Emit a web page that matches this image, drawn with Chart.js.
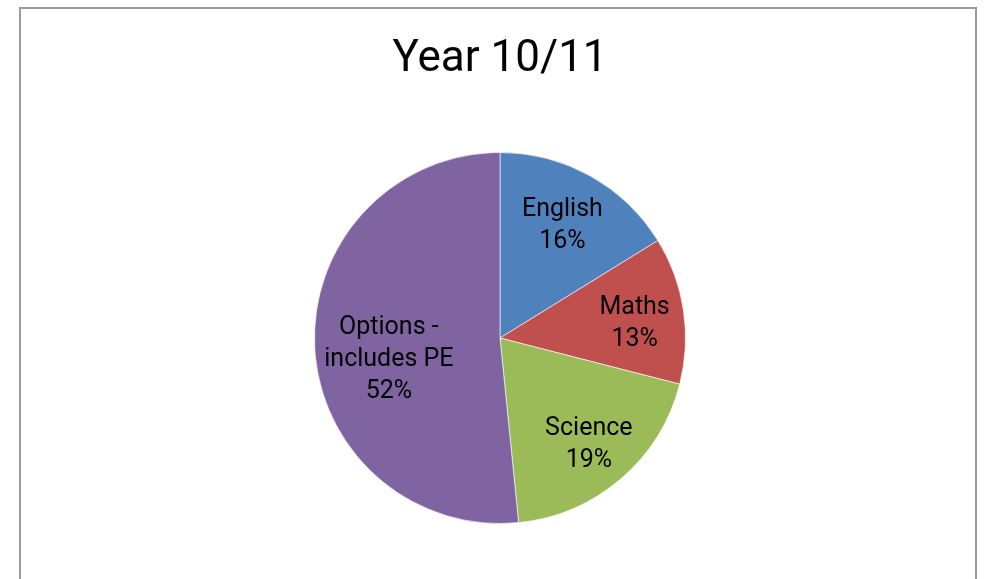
<!DOCTYPE html>
<html>
<head>
<meta charset="utf-8">
<script src="https://cdn.jsdelivr.net/npm/chart.js@4"></script>
<style>
html,body{margin:0;padding:0;background:#fff;overflow:hidden;}
#frame{position:absolute;left:19px;top:7px;width:958px;height:620px;border:2px solid #9b9b9b;box-sizing:border-box;}
#c{position:absolute;left:0;top:0;}
</style>
</head>
<body>
<div id="frame"></div>
<canvas id="c" width="985" height="579"></canvas>
<script>
const titleText = "Year 10/11";
const categories = ["English", "Maths", "Science", "Options - includes PE"];
const labelLines = [["English"], ["Maths"], ["Science"], ["Options -", "includes PE"]];
const values = [16.2, 12.8, 19.4, 51.6];
const colors = ["#4F81BD", "#C0504D", "#9BBB59", "#8064A2"];

// label placement (radius fraction, angle offset in degrees)
const labelRadius = [0.69, 0.73, 0.75, 0.61];
const labelAngleOffset = [0, 2.5, 1, -8];

const labelPlugin = {
  id: 'sliceLabels',
  afterDatasetsDraw(chart) {
    const ctx = chart.ctx;
    const meta = chart.getDatasetMeta(0);
    const total = values.reduce((a, b) => a + b, 0);
    ctx.save();
    ctx.fillStyle = '#000';
    ctx.font = '25px Roboto';
    ctx.textAlign = 'center';
    ctx.textBaseline = 'middle';
    meta.data.forEach((arc, i) => {
      const mid = (arc.startAngle + arc.endAngle) / 2 + labelAngleOffset[i] * Math.PI / 180;
      const r = arc.outerRadius * labelRadius[i];
      const x = arc.x + Math.cos(mid) * r;
      const y = arc.y + Math.sin(mid) * r;
      const lines = labelLines[i].concat([Math.round(values[i] / total * 100) + '%']);
      const lh = 32;
      const y0 = y - (lines.length - 1) * lh / 2;
      lines.forEach((t, k) => ctx.fillText(t, x, y0 + k * lh));
    });
    ctx.restore();
  }
};

new Chart(document.getElementById('c'), {
  type: 'pie',
  data: {
    labels: categories,
    datasets: [{
      data: values,
      backgroundColor: colors,
      borderColor: 'rgba(255,255,255,0.6)',
      borderWidth: 1
    }]
  },
  options: {
    responsive: false,
    animation: false,
    layout: { padding: { top: 8, left: 20, right: 5, bottom: 55 } },
    plugins: {
      legend: { display: false },
      tooltip: { enabled: false },
      title: {
        display: true,
        text: titleText,
        color: '#000',
        font: { family: 'Roboto', size: 44, weight: 'normal', lineHeight: 1.0 },
        padding: { top: 30, bottom: 70 }
      }
    }
  },
  plugins: [labelPlugin]
});
</script>
</body>
</html>
